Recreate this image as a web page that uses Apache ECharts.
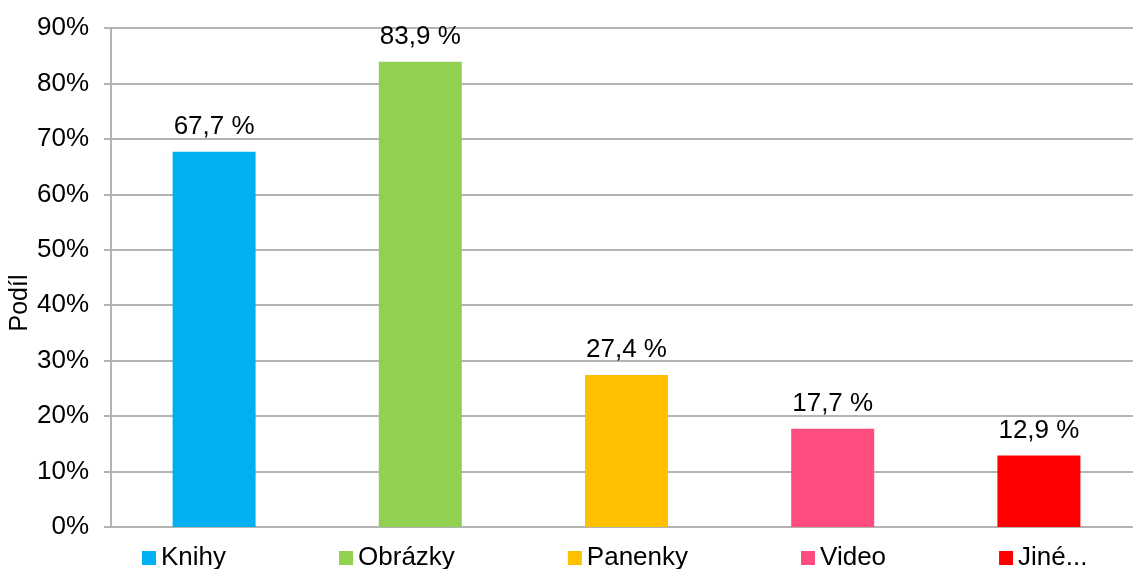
<!DOCTYPE html>
<html>
<head>
<meta charset="utf-8">
<script src="https://cdn.jsdelivr.net/npm/echarts@6/dist/echarts.min.js"></script>
<style>
  html, body { margin: 0; padding: 0; background: #fff; }
  #chart { width: 1133px; height: 569px; }
</style>
</head>
<body>
<div id="chart"></div>
<script>
const categories = ['Knihy', 'Obrázky', 'Panenky', 'Video', 'Jiné...'];
const values = [67.7, 83.9, 27.4, 17.7, 12.9];
const colors = ['#00b0f0', '#92d050', '#ffc000', '#ff4b7d', '#ff0000'];
const yTicks = [0, 10, 20, 30, 40, 50, 60, 70, 80, 90];

const chart = echarts.init(document.getElementById('chart'));
const font = 'Liberation Sans, Arial, sans-serif';

// one series per category so each gets its own legend entry; stacked so bars stay centred
const series = categories.map((name, i) => ({
  name: name,
  type: 'bar',
  stack: 'all',
  barWidth: 83,
  itemStyle: { color: colors[i] },
  data: categories.map((c, j) => (j === i ? values[i] : '-')),
  label: {
    show: true,
    position: 'top',
    distance: 12,
    color: '#000',
    fontFamily: font,
    fontSize: 26,
    formatter: (p) => String(p.value).replace('.', ',') + ' %'
  }
}));

chart.setOption({
  animation: false,
  backgroundColor: '#fff',
  grid: { left: 111, right: -9, top: 28, bottom: 42, outerBoundsMode: 'none' },
  legend: {
    data: categories,
    left: 142,
    top: 545,
    padding: 0,
    icon: 'rect',
    itemWidth: 14,
    itemHeight: 14,
    itemGap: 113,
    textStyle: { color: '#000', fontFamily: font, fontSize: 26 }
  },
  xAxis: {
    type: 'category',
    data: categories,
    axisLine: { lineStyle: { color: '#b3b3b3', width: 2 } },
    axisTick: { show: false },
    axisLabel: { show: false }
  },
  yAxis: {
    type: 'value',
    min: yTicks[0],
    max: yTicks[yTicks.length - 1],
    interval: 10,
    name: 'Podíl',
    nameLocation: 'middle',
    nameMoveOverlap: false,
    nameGap: 78,
    nameTextStyle: { color: '#000', fontFamily: font, fontSize: 25, padding: [0, 51, 0, 0] },
    axisLine: { show: true, lineStyle: { color: '#b3b3b3', width: 2 } },
    axisTick: { show: true, length: 7, lineStyle: { color: '#b3b3b3', width: 2 } },
    splitLine: { lineStyle: { color: '#b3b3b3', width: 2 } },
    axisLabel: {
      color: '#000',
      fontFamily: font,
      fontSize: 26,
      margin: 22,
      formatter: '{value}%'
    }
  },
  series: series
});
</script>
</body>
</html>
